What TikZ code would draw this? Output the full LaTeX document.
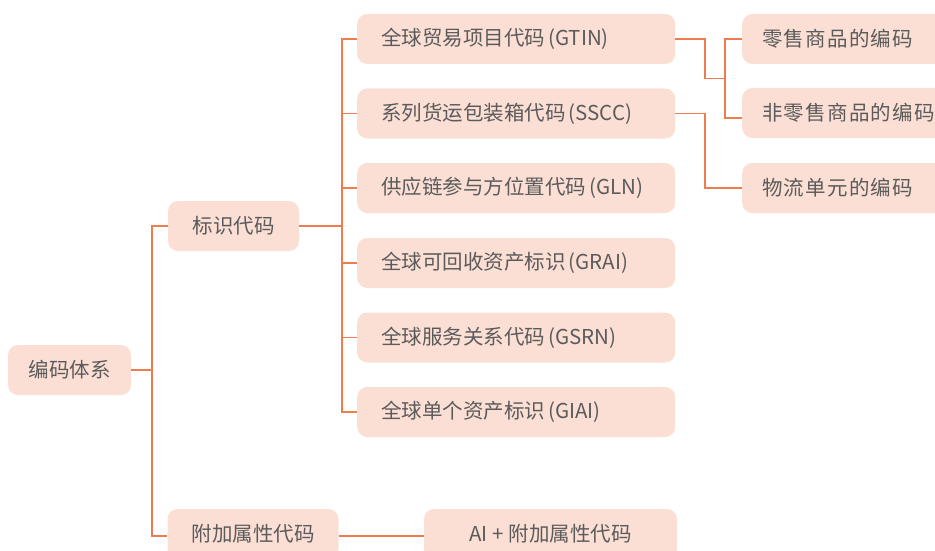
\documentclass[tikz,border=0pt]{standalone}
\usepackage{fontspec}
\setmainfont{Noto Sans CJK SC}
\newfontfamily\cjkwide[LetterSpace=6]{Noto Sans CJK SC}
\definecolor{boxfill}{HTML}{FBDFD5}
\definecolor{linec}{HTML}{EE7C4E}
\definecolor{txt}{HTML}{5B5B5B}
\newcommand{\pgap}{\hspace{3pt}}
\begin{document}
\begin{tikzpicture}[x=1pt,y=-1pt,
  box/.style={fill=boxfill, rounded corners=10pt, text=txt, minimum height=50pt, inner ysep=0pt, font=\fontsize{20.5pt}{24pt}\selectfont},
  cbox/.style={box, align=center},
  mbox/.style={box, text width=270pt, inner xsep=24pt, align=left},
  rbox/.style={box, text width=180pt, inner xsep=20pt, align=left, font=\fontsize{20.5pt}{24pt}\cjkwide},
  conn/.style={draw=linec, line width=1.3pt}]
\useasboundingbox (0,0) rectangle (935,551);
\node[cbox, minimum width=123pt] (root) at (69.5,370) {编码体系};
\node[cbox, minimum width=131pt] (id) at (233.5,226) {标识代码};
\node[cbox, minimum width=171pt] (add) at (253,534) {附加属性代码};
\node[cbox, minimum width=253pt] (ai) at (550.5,534) {AI + 附加属性代码};
\node[mbox, anchor=west] (gtin) at (357,39) {全球贸易项目代码\pgap(GTIN)};
\node[mbox, anchor=west] (sscc) at (357,113.5) {系列货运包装箱代码\pgap(SSCC)};
\node[mbox, anchor=west] (gln) at (357,188) {供应链参与方位置代码\pgap(GLN)};
\node[mbox, anchor=west] (grai) at (357,263) {全球可回收资产标识\pgap(GRAI)};
\node[mbox, anchor=west] (gsrn) at (357,337.5) {全球服务关系代码\pgap(GSRN)};
\node[mbox, anchor=west] (giai) at (357,412) {全球单个资产标识\pgap(GIAI)};
\node[rbox, anchor=west] (retail) at (742,39) {零售商品的编码};
\node[rbox, anchor=west] (nonretail) at (742,113) {非零售商品的编码};
\node[rbox, anchor=west] (logi) at (742,188) {物流单元的编码};
\coordinate (j1) at (152,370);
\coordinate (j2) at (342,226);
\coordinate (k3) at (705,78.5);
\coordinate (j3) at (725,78.5);
\draw[conn] (root.east) -- (j1);
\draw[conn] (id.west) -| (j1) |- ([yshift=-2pt]add.west);
\draw[conn] (id.east) -- (j2);
\draw[conn] (gtin.west) -| (j2) |- (giai.west);
\draw[conn] (j2 |- sscc.west) -- (sscc.west);
\draw[conn] (j2 |- gln.west) -- (gln.west);
\draw[conn] (j2 |- grai.west) -- (grai.west);
\draw[conn] (j2 |- gsrn.west) -- (gsrn.west);
\draw[conn] (gtin.east) -| (k3) -- (j3);
\draw[conn] (retail.west) -| (j3) |- ([yshift=-5pt]nonretail.west);
\draw[conn] (sscc.east) -- (sscc.east -| k3) |- (logi.west);
\draw[conn] ([yshift=-2pt]add.east) -- ([yshift=-2pt]ai.west);
\end{tikzpicture}
\end{document}
